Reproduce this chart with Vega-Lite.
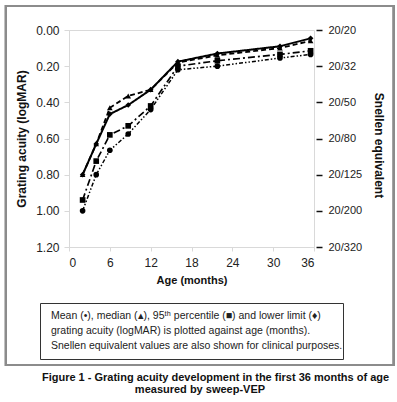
{
  "$schema": "https://vega.github.io/schema/vega-lite/v6.json",
  "background": "white",
  "padding": {"left": 4, "top": 4, "right": 0, "bottom": 0},
  "config": {"font": "Liberation Sans", "view": {"stroke": "#d9d9d9"}},
  "title": {"text": "measured  by  sweep-VEP", "orient": "bottom", "anchor": "middle", "fontSize": 11, "fontWeight": "bold", "color": "#111", "offset": 0},
  "spacing": 56,
  "bounds": "flush",
  "center": true,
  "vconcat": [
    {
      "width": 245,
      "height": 217,
      "resolve": {"scale": {"y": "independent"}},
      "layer": [
        {
          "data": {"values": [
            {"series": "lower limit", "age": 2, "logMAR": 0.80},
            {"series": "lower limit", "age": 4, "logMAR": 0.63},
            {"series": "lower limit", "age": 6, "logMAR": 0.465},
            {"series": "lower limit", "age": 8.7, "logMAR": 0.415},
            {"series": "lower limit", "age": 12, "logMAR": 0.33},
            {"series": "lower limit", "age": 16, "logMAR": 0.175},
            {"series": "lower limit", "age": 21.8, "logMAR": 0.13},
            {"series": "lower limit", "age": 31, "logMAR": 0.09},
            {"series": "lower limit", "age": 35.5, "logMAR": 0.046},
            {"series": "median", "age": 2, "logMAR": 0.80},
            {"series": "median", "age": 4, "logMAR": 0.63},
            {"series": "median", "age": 6, "logMAR": 0.43},
            {"series": "median", "age": 8.7, "logMAR": 0.365},
            {"series": "median", "age": 12, "logMAR": 0.33},
            {"series": "median", "age": 16, "logMAR": 0.18},
            {"series": "median", "age": 21.8, "logMAR": 0.14},
            {"series": "median", "age": 31, "logMAR": 0.10},
            {"series": "median", "age": 35.5, "logMAR": 0.06},
            {"series": "95th percentile", "age": 2, "logMAR": 0.94},
            {"series": "95th percentile", "age": 4, "logMAR": 0.725},
            {"series": "95th percentile", "age": 6, "logMAR": 0.58},
            {"series": "95th percentile", "age": 8.7, "logMAR": 0.53},
            {"series": "95th percentile", "age": 12, "logMAR": 0.42},
            {"series": "95th percentile", "age": 16, "logMAR": 0.20},
            {"series": "95th percentile", "age": 21.8, "logMAR": 0.17},
            {"series": "95th percentile", "age": 31, "logMAR": 0.135},
            {"series": "95th percentile", "age": 35.5, "logMAR": 0.115},
            {"series": "mean", "age": 2, "logMAR": 1.00},
            {"series": "mean", "age": 4, "logMAR": 0.80},
            {"series": "mean", "age": 6, "logMAR": 0.665},
            {"series": "mean", "age": 8.7, "logMAR": 0.575},
            {"series": "mean", "age": 12, "logMAR": 0.44},
            {"series": "mean", "age": 16, "logMAR": 0.22},
            {"series": "mean", "age": 21.8, "logMAR": 0.20},
            {"series": "mean", "age": 31, "logMAR": 0.155},
            {"series": "mean", "age": 35.5, "logMAR": 0.135}
          ]},
          "layer": [
            {
              "mark": {"type": "line", "color": "black"},
              "encoding": {
                "x": {"field": "age", "type": "quantitative", "scale": {"domain": [0, 36], "nice": false, "zero": false},
                  "axis": {"values": [0, 6, 12, 18, 24, 30, 36], "labelOverlap": false, "title": "Age (months)", "grid": false, "domainColor": "#d9d9d9", "tickColor": "#d9d9d9", "tickSize": 4, "labelFontSize": 12, "labelColor": "#222", "labelPadding": 6, "titleFontSize": 11, "titleFontWeight": "bold", "titleColor": "#111", "titlePadding": 6}},
                "y": {"field": "logMAR", "type": "quantitative", "scale": {"domain": [0, 1.2], "reverse": true, "nice": false},
                  "axis": {"values": [0, 0.2, 0.4, 0.6, 0.8, 1, 1.2], "labelOverlap": false, "format": ".2f", "title": "Grating acuity (logMAR)", "grid": false, "domainColor": "#d9d9d9", "tickColor": "#d9d9d9", "tickSize": 5, "labelFontSize": 12, "labelColor": "#222", "labelPadding": 5, "titleFontSize": 12, "titleFontWeight": "bold", "titleColor": "#111", "titlePadding": 7}},
                "strokeDash": {"field": "series", "type": "nominal", "scale": {"domain": ["lower limit", "median", "95th percentile", "mean"], "range": [[1, 0], [5, 3], [7, 3, 2, 3], [4, 2, 1.5, 2, 1.5, 2]]}, "legend": null},
                "strokeWidth": {"field": "series", "type": "nominal", "scale": {"domain": ["lower limit", "median", "95th percentile", "mean"], "range": [2, 1.5, 1.5, 1.5]}, "legend": null}
              }
            },
            {
              "mark": {"type": "point", "filled": true, "color": "black", "opacity": 1, "size": 32},
              "encoding": {
                "x": {"field": "age", "type": "quantitative", "scale": {"domain": [0, 36], "nice": false, "zero": false},
                  "axis": {"values": [0, 6, 12, 18, 24, 30, 36], "labelOverlap": false, "title": "Age (months)", "grid": false, "domainColor": "#d9d9d9", "tickColor": "#d9d9d9", "tickSize": 4, "labelFontSize": 12, "labelColor": "#222", "labelPadding": 6, "titleFontSize": 11, "titleFontWeight": "bold", "titleColor": "#111", "titlePadding": 6}},
                "y": {"field": "logMAR", "type": "quantitative", "scale": {"domain": [0, 1.2], "reverse": true, "nice": false},
                  "axis": {"values": [0, 0.2, 0.4, 0.6, 0.8, 1, 1.2], "labelOverlap": false, "format": ".2f", "title": "Grating acuity (logMAR)", "grid": false, "domainColor": "#d9d9d9", "tickColor": "#d9d9d9", "tickSize": 5, "labelFontSize": 12, "labelColor": "#222", "labelPadding": 5, "titleFontSize": 12, "titleFontWeight": "bold", "titleColor": "#111", "titlePadding": 7}},
                "shape": {"field": "series", "type": "nominal", "scale": {"domain": ["lower limit", "median", "95th percentile", "mean"], "range": ["diamond", "triangle-up", "square", "circle"]}, "legend": null}
              }
            },
            {
              "mark": {"type": "rect", "fillOpacity": 0, "stroke": "#8c8c8c", "strokeWidth": 2},
              "encoding": {
                "x": {"datum": -9.26, "type": "quantitative", "scale": {"domain": [0, 36], "nice": false, "zero": false},
                  "axis": {"values": [0, 6, 12, 18, 24, 30, 36], "labelOverlap": false, "title": "Age (months)", "grid": false, "domainColor": "#d9d9d9", "tickColor": "#d9d9d9", "tickSize": 4, "labelFontSize": 12, "labelColor": "#222", "labelPadding": 6, "titleFontSize": 11, "titleFontWeight": "bold", "titleColor": "#111", "titlePadding": 6}},
                "x2": {"datum": 47.75},
                "y": {"datum": -0.133, "type": "quantitative", "scale": {"domain": [0, 1.2], "reverse": true, "nice": false},
                  "axis": {"values": [0, 0.2, 0.4, 0.6, 0.8, 1, 1.2], "labelOverlap": false, "format": ".2f", "title": "Grating acuity (logMAR)", "grid": false, "domainColor": "#d9d9d9", "tickColor": "#d9d9d9", "tickSize": 5, "labelFontSize": 12, "labelColor": "#222", "labelPadding": 5, "titleFontSize": 12, "titleFontWeight": "bold", "titleColor": "#111", "titlePadding": 7}},
                "y2": {"datum": 1.853}
              }
            }
          ]
        },
        {
          "data": {"values": [
            {"logMAR": 0, "snellen": "20/20"},
            {"logMAR": 0.2, "snellen": "20/32"},
            {"logMAR": 0.4, "snellen": "20/50"},
            {"logMAR": 0.6, "snellen": "20/80"},
            {"logMAR": 0.8, "snellen": "20/125"},
            {"logMAR": 1.0, "snellen": "20/200"},
            {"logMAR": 1.2, "snellen": "20/320"}
          ]},
          "mark": {"type": "point", "opacity": 0},
          "encoding": {
            "y": {"field": "logMAR", "type": "quantitative", "scale": {"domain": [0, 1.2], "reverse": true, "nice": false},
              "axis": {"orient": "right", "offset": 2, "domain": false, "values": [0, 0.2, 0.4, 0.6, 0.8, 1, 1.2], "labelOverlap": false, "labelExpr": "['20/20','20/32','20/50','20/80','20/125','20/200','20/320'][round(datum.value*5)]", "title": "Snellen equivalent", "titleY": 115, "grid": false, "tickColor": "#111", "tickWidth": 1.5, "tickSize": 6, "labelFontSize": 11, "labelColor": "#222", "labelPadding": 6, "titleFontSize": 12, "titleFontWeight": "bold", "titleColor": "#111", "titlePadding": 10}}
          }
        }
      ]
    },
    {
      "width": 303,
      "height": 56,
      "view": {"stroke": "#333", "strokeWidth": 1},
      "title": {"text": "Figure 1 - Grating acuity development in the first 36 months of age", "orient": "bottom", "anchor": "middle", "fontSize": 11, "fontWeight": "bold", "color": "#111", "offset": 13, "dx": 24},
      "data": {"values": [
        {"line": 1, "text": "Mean (•),  median (▴), 95ᵗʰ percentile (■) and lower limit (♦)"},
        {"line": 2, "text": "grating acuity (logMAR) is plotted against age (months)."},
        {"line": 3, "text": "Snellen equivalent values are also shown for clinical purposes."}
      ]},
      "mark": {"type": "text", "align": "left", "baseline": "middle", "fontSize": 10.5, "color": "#222", "dx": 11},
      "encoding": {
        "x": {"datum": 0, "type": "quantitative", "scale": {"domain": [0, 1]}, "axis": null},
        "y": {"field": "line", "type": "ordinal", "scale": {"type": "point", "padding": 0.87}, "axis": null},
        "text": {"field": "text"}
      }
    }
  ]
}
